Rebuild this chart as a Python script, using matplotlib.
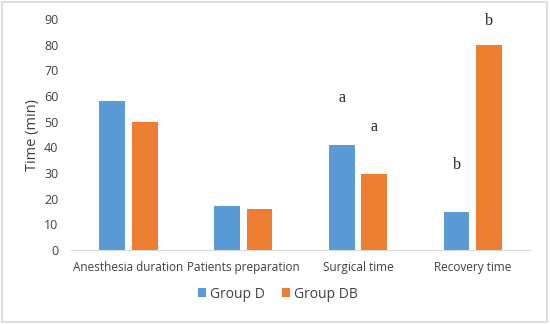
import matplotlib.pyplot as plt
import numpy as np

categories = ['Anesthesia duration', 'Patients preparation', 'Surgical time', 'Recovery time']
group_d = [58, 17, 41, 15]
group_db = [50, 16, 29.6, 80]
# significance letters (category index, group, letter, height)
letters = [(2, 'D', 'a', 56), (2, 'DB', 'a', 45), (3, 'D', 'b', 30), (3, 'DB', 'b', 86)]

blue = '#5B9BD5'
orange = '#ED7D31'

fig = plt.figure(figsize=(5.5, 3.24), dpi=100)
ax = fig.add_axes([0.129, 0.228, 0.835, 0.713])

x = np.arange(len(categories))
w = 0.225
off = 0.142
ax.bar(x - off, group_d, w, color=blue, label='Group D')
ax.bar(x + off, group_db, w, color=orange, label='Group DB')

for ci, grp, txt, h in letters:
    xx = ci - off if grp == 'D' else ci + off
    ax.text(xx, h, txt, ha='center', va='bottom', fontsize=11.5,
            family='Liberation Serif', color='#222222')

ax.set_xlim(-0.5, 3.5)
ax.set_ylim(0, 90)
ax.set_yticks(range(0, 91, 10))
ax.set_xticks(x)
ax.set_xticklabels(categories, fontsize=8.5, family='Open Sans', color='#404040')
for lab in ax.get_yticklabels():
    lab.set_fontsize(9)
    lab.set_family('Open Sans')
    lab.set_color('#404040')
ax.tick_params(axis='y', length=0, pad=9)
ax.tick_params(axis='x', length=0, pad=8)
ax.set_ylabel('Time (min)', fontsize=10.5, family='Open Sans', color='#404040', labelpad=3)

for s in ['top', 'right', 'left']:
    ax.spines[s].set_visible(False)
ax.spines['bottom'].set_color('#D9D9D9')

leg = fig.legend(loc='center', bbox_to_anchor=(0.505, 0.092), ncol=2, frameon=False,
                 prop={'family': 'Open Sans', 'size': 10}, handlelength=0.6,
                 handleheight=0.6, columnspacing=1.2, handletextpad=0.3)
for t in leg.get_texts():
    t.set_color('#404040')

fig.patches.append(plt.Rectangle((0.004, 0.006), 0.99, 0.987, transform=fig.transFigure,
                                 fill=False, edgecolor='#D9D9D9', linewidth=1.2))

fig.savefig('out.png', dpi=100)
